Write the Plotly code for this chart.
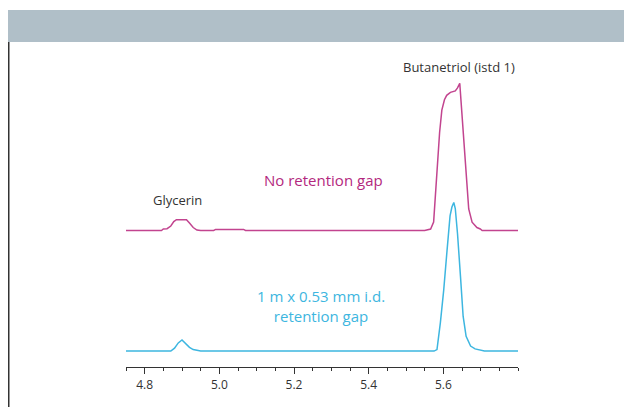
import plotly.graph_objects as go

# Retention time (min) and detector signal (arbitrary units, cyan peak = 100)
time_no_gap = [4.75, 4.845, 4.85, 4.86, 4.87, 4.878, 4.885, 4.90, 4.912, 4.92, 4.93, 4.94, 4.95,
               4.985, 4.99, 5.065, 5.07, 5.55, 5.566, 5.574, 5.578, 5.583, 5.590, 5.596, 5.603,
               5.609, 5.619, 5.632, 5.638, 5.644, 5.650, 5.659, 5.668, 5.677, 5.69, 5.699, 5.704, 5.80]
signal_no_gap = [0, 0, 1.0, 1.2, 3, 6, 7.3, 7.4, 7.2, 5, 2, 0.3, 0,
                 0, 0.7, 0.7, 0, 0, 1.0, 5.6, 21, 43, 66, 81, 88,
                 91, 93, 94, 96, 99, 77, 43, 14.5, 5.6, 2.0, 1.0, 0, 0]

time_gap = [4.75, 4.87, 4.88, 4.89, 4.90, 4.91, 4.92, 4.93, 4.94, 4.95, 5.575, 5.583, 5.592,
            5.601, 5.610, 5.618, 5.623, 5.628, 5.632, 5.638, 5.646, 5.653, 5.661, 5.673,
            5.685, 5.70, 5.71, 5.80]
signal_gap = [0, 0, 2, 5.5, 7.5, 5, 2.5, 1, 0.4, 0, 0, 1, 19,
              41, 68, 91, 97, 100, 96, 79, 50, 23.5, 10, 3.4,
              1.5, 0.7, 0, 0]

no_gap_offset = 81.2  # vertical stacking of the upper trace

tick_values = [4.8, 5.0, 5.2, 5.4, 5.6]
tick_labels = ["4.8", "5.0", "5.2", "5.4", "5.6"]

MAGENTA = "#C2448F"
MAGENTA_TXT = "#B3287E"
CYAN = "#3DB6E0"
FONT = "Open Sans"

# figure geometry (page has an 8px body margin)
W, H = 624, 399
L, R, T, B = 118, 114, 42, 40
PW, PH = W - L - R, H - T - B


def px(x):
    return (x - L) / PW


def py(y):
    return (H - B - y) / PH


fig = go.Figure()
fig.add_trace(go.Scatter(x=time_no_gap, y=[v + no_gap_offset for v in signal_no_gap],
                         mode="lines", line=dict(color=MAGENTA, width=1.5), hoverinfo="skip"))
fig.add_trace(go.Scatter(x=time_gap, y=signal_gap,
                         mode="lines", line=dict(color=CYAN, width=1.5), hoverinfo="skip"))

fig.add_annotation(x=5.643, y=191.3, text="Butanetriol (istd 1)", showarrow=False,
                   font=dict(family=FONT, size=13, color="#333333"))
fig.add_annotation(x=4.889, y=102, text="Glycerin", showarrow=False,
                   font=dict(family=FONT, size=13, color="#333333"))
fig.add_annotation(x=5.279, y=115.4, text="No retention gap", showarrow=False,
                   font=dict(family=FONT, size=15, color=MAGENTA_TXT))
fig.add_annotation(x=5.272, y=30.2, text="1 m x 0.53 mm i.d.<br>retention gap", showarrow=False,
                   font=dict(family=FONT, size=15, color=CYAN))

# header band and left frame line
fig.add_shape(type="rect", xref="paper", yref="paper", x0=px(0), x1=px(W),
              y0=py(34), y1=py(2), fillcolor="#B0BFC8", line=dict(width=0),
              layer="below")
fig.add_shape(type="line", xref="paper", yref="paper", x0=px(0.75), x1=px(0.75),
              y0=py(34), y1=py(H + 5), line=dict(color="#333333", width=1.5))

fig.update_layout(
    width=W, height=H,
    margin=dict(l=L, r=R, t=T, b=B),
    paper_bgcolor="white", plot_bgcolor="white",
    showlegend=False,
    xaxis=dict(range=[4.75, 5.80], showgrid=False, zeroline=False,
               showline=True, linecolor="#333333", linewidth=1.2,
               tickmode="array", tickvals=tick_values, ticktext=tick_labels,
               ticks="outside", ticklen=6, tickwidth=1.3, tickcolor="#333333",
               tickfont=dict(family=FONT, size=12, color="#333333"),
               minor=dict(dtick=0.05, tick0=4.75, ticks="outside", ticklen=3,
                          tickwidth=1.2, tickcolor="#333333"),
               fixedrange=True),
    yaxis=dict(range=[-10.74 * 317 / 318, 202.7], visible=False, fixedrange=True),
)

fig.write_html("out.html")
